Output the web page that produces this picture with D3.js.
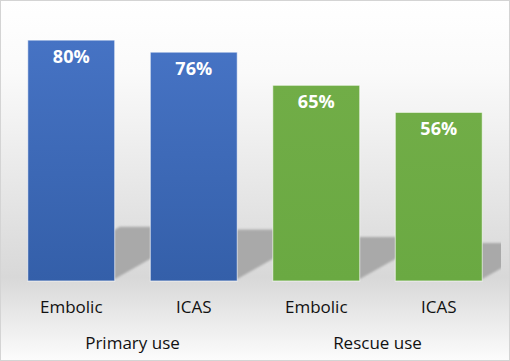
<!DOCTYPE html>
<html>
<head>
<meta charset="utf-8">
<script src="https://cdn.jsdelivr.net/npm/d3@7"></script>
<style>
  body { margin: 0; background: #fff; }
  svg { display: block; font-family: 'Open Sans', 'Noto Sans', sans-serif; }
</style>
</head>
<body>
<svg id="chart"></svg>
<script>
// categories and values
const categories = ['Embolic', 'ICAS', 'Embolic', 'ICAS'];
const groupOf = ['Primary use', 'Primary use', 'Rescue use', 'Rescue use'];
const values = [80, 76, 65, 56];
const groupNames = ['Primary use', 'Rescue use'];

class ShadowBars {
  constructor(_config, _data) {
    this.config = {
      parentElement: _config.parentElement,
      containerWidth: 510,
      containerHeight: 361,
      plot: { left: 10, right: 500, top: 10, bottom: 281 },
      colors: {
        'Primary use': ['#4673c4', '#345fa9'],
        'Rescue use': ['#71ad47', '#6aa942'],
      },
    };
    this.data = _data;
    this.initVis();
  }

  initVis() {
    let vis = this;
    const c = vis.config;

    vis.svg = d3.select(c.parentElement)
      .attr('width', c.containerWidth)
      .attr('height', c.containerHeight);

    const defs = vis.svg.append('defs');

    // background: white at top, grey at the floor, back to white at the bottom
    const bg = defs.append('linearGradient')
      .attr('id', 'bg-grad')
      .attr('x1', 0).attr('x2', 0).attr('y1', 0).attr('y2', 1);
    bg.append('stop').attr('offset', '0%').attr('stop-color', '#ffffff');
    bg.append('stop').attr('offset', '20%').attr('stop-color', '#fafafa');
    bg.append('stop').attr('offset', '77%').attr('stop-color', '#d8d8d8');
    bg.append('stop').attr('offset', '100%').attr('stop-color', '#fcfcfc');

    Object.keys(c.colors).forEach((g, i) => {
      const gr = defs.append('linearGradient')
        .attr('id', `bar-grad-${i}`)
        .attr('x1', 0).attr('x2', 0).attr('y1', 0).attr('y2', 1);
      gr.append('stop').attr('offset', '0%').attr('stop-color', c.colors[g][0]);
      gr.append('stop').attr('offset', '100%').attr('stop-color', c.colors[g][1]);
    });

    defs.append('filter')
      .attr('id', 'soft')
      .attr('x', '-20%').attr('y', '-20%').attr('width', '140%').attr('height', '140%')
      .append('feGaussianBlur')
      .attr('stdDeviation', 1.2);

    defs.append('clipPath')
      .attr('id', 'plot-clip')
      .append('rect')
      .attr('x', 2)
      .attr('y', 0)
      .attr('width', 499)
      .attr('height', c.plot.bottom);

    vis.svg.append('rect')
      .attr('x', 0.5).attr('y', 0.5)
      .attr('width', c.containerWidth - 1)
      .attr('height', c.containerHeight - 1)
      .attr('fill', 'url(#bg-grad)')
      .attr('stroke', '#d4d4d4');

    vis.xScale = d3.scaleBand()
      .range([c.plot.left, c.plot.right])
      .paddingInner(0.29)
      .paddingOuter(0.145);

    vis.yScale = d3.scaleLinear()
      .domain([0, 90])
      .range([c.plot.bottom, c.plot.top]);

    vis.xAxis = d3.axisBottom(vis.xScale)
      .tickSize(0)
      .tickPadding(20)
      .tickFormat((i) => categories[i]);

    vis.shadows = vis.svg.append('g').attr('clip-path', 'url(#plot-clip)');
    vis.bars = vis.svg.append('g');
    vis.labels = vis.svg.append('g');
    vis.xAxisG = vis.svg.append('g')
      .attr('class', 'axis x-axis')
      .attr('transform', `translate(0,${c.plot.bottom})`);
    vis.groupG = vis.svg.append('g');

    vis.updateVis();
  }

  updateVis() {
    let vis = this;
    vis.xValue = (d) => d.i;
    vis.yValue = (d) => d.value;
    vis.xScale.domain(vis.data.map(vis.xValue));
    vis.renderVis();
  }

  renderVis() {
    let vis = this;
    const c = vis.config;
    const bw = vis.xScale.bandwidth();
    const y0 = vis.yScale(0);

    // perspective shadow thrown on the back wall
    vis.shadows.selectAll('.shadow')
      .data(vis.data)
      .join('path')
      .attr('class', 'shadow')
      .attr('fill', '#a9a9a9')
      .attr('filter', 'url(#soft)')
      .attr('d', (d) => {
        const x0 = vis.xScale(vis.xValue(d));
        const h = y0 - vis.yScale(vis.yValue(d));
        const sh = h * 0.225;
        const dx = sh * 1.7;
        return `M${x0},${y0 - 2}L${x0 + bw},${y0 - 2}L${x0 + bw + dx},${y0 - sh}L${x0 + dx},${y0 - sh}Z`;
      });

    vis.bars.selectAll('.bar')
      .data(vis.data)
      .join('rect')
      .attr('class', 'bar')
      .attr('x', (d) => vis.xScale(vis.xValue(d)))
      .attr('y', (d) => vis.yScale(vis.yValue(d)))
      .attr('width', bw)
      .attr('height', (d) => y0 - vis.yScale(vis.yValue(d)))
      .attr('fill', (d) => `url(#bar-grad-${groupNames.indexOf(d.group)})`)
      .attr('stroke', 'rgba(255,255,255,0.65)')
      .attr('stroke-width', 1);

    vis.labels.selectAll('.val')
      .data(vis.data)
      .join('text')
      .attr('class', 'val')
      .attr('x', (d) => vis.xScale(vis.xValue(d)) + bw / 2)
      .attr('y', (d) => vis.yScale(vis.yValue(d)) + 23)
      .attr('text-anchor', 'middle')
      .attr('fill', '#ffffff')
      .attr('font-size', 18)
      .attr('font-weight', 700)
      .text((d) => `${d.value}%`);

    vis.xAxisG.call(vis.xAxis)
      .call((g) => g.select('.domain').remove())
      .call((g) => g.selectAll('text')
        .attr('font-family', "'Open Sans', 'Noto Sans', sans-serif")
        .attr('font-size', 17)
        .attr('fill', '#111'));

    // group labels centred under each pair of bars
    const groups = d3.groups(vis.data, (d) => d.group);
    vis.groupG.selectAll('.grp')
      .data(groups)
      .join('text')
      .attr('class', 'grp')
      .attr('x', ([, ds]) => d3.mean(ds, (d) => vis.xScale(vis.xValue(d)) + bw / 2))
      .attr('y', 349)
      .attr('text-anchor', 'middle')
      .attr('font-size', 17)
      .attr('fill', '#111')
      .text(([g]) => g);
  }
}

const data = values.map((v, i) => ({ i, value: v, category: categories[i], group: groupOf[i] }));
new ShadowBars({ parentElement: '#chart' }, data);
</script>
</body>
</html>
